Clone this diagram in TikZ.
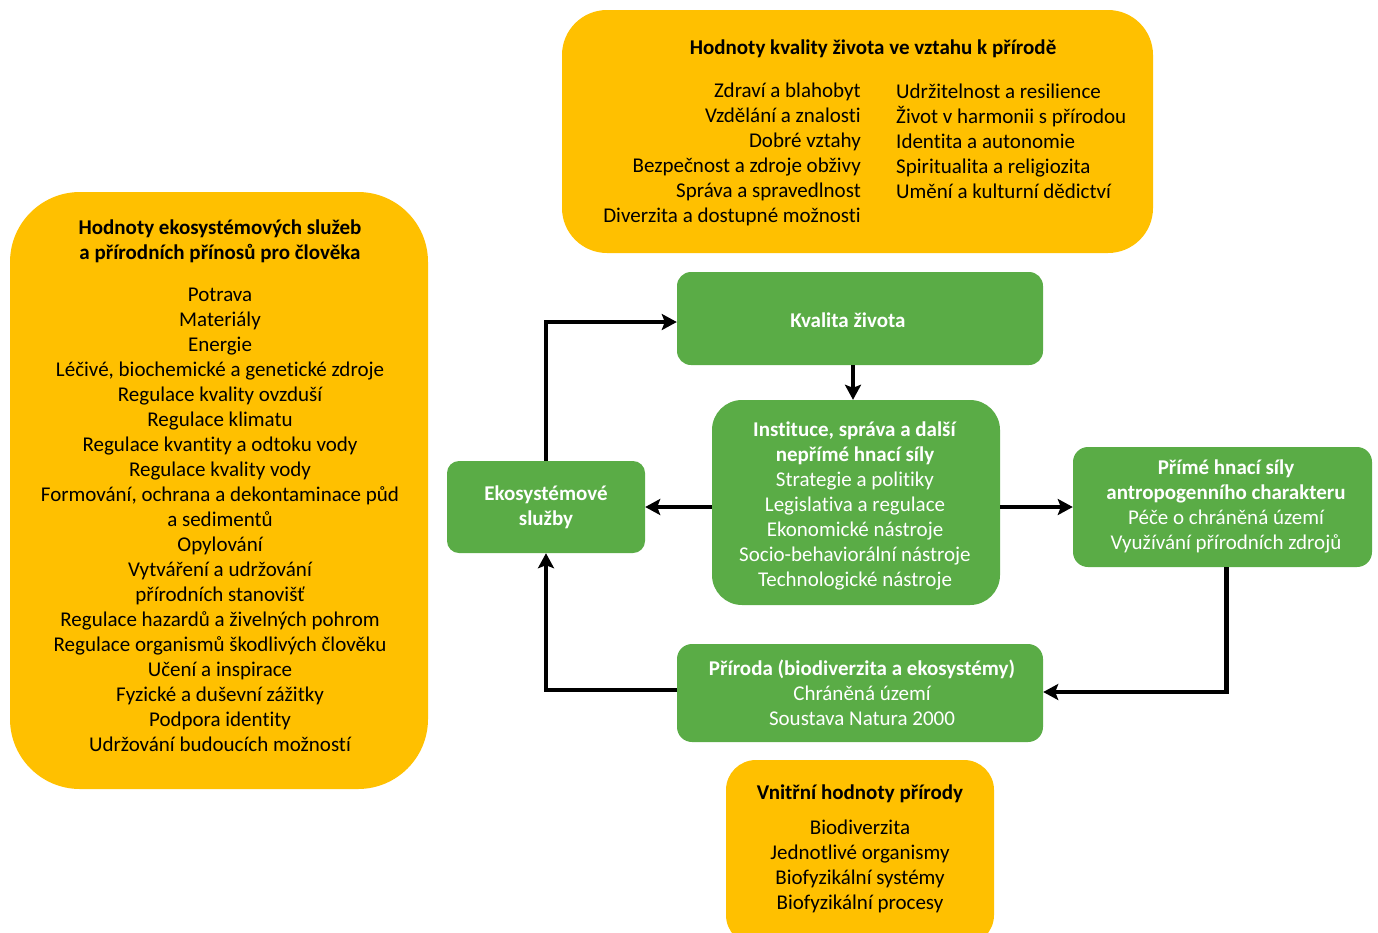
\documentclass[tikz,border=0pt]{standalone}
\usepackage{fontspec}
\setmainfont[Ligatures=NoCommon]{Carlito}
\usetikzlibrary{arrows.meta}
\definecolor{orng}{HTML}{FFC000}
\definecolor{grn}{HTML}{5AAC46}
\tikzset{
  obox/.style={fill=orng, draw=none, rectangle},
  gbox/.style={fill=grn, draw=none, rectangle},
  txt/.style={inner sep=0pt, font=\fontsize{21}{25}\selectfont},
  btxt/.style={txt, font=\fontsize{21}{25}\selectfont\bfseries},
  wtxt/.style={txt, text=white},
  arr/.style={line width=4.5pt, -{Stealth[length=15pt,width=16pt,inset=3pt]}}
}
\begin{document}
\begin{tikzpicture}[x=1pt,y=-1pt]
\useasboundingbox (0,0) rectangle (1378,932);
% boxes
\node[obox, rounded corners=45, minimum width=591, minimum height=243] (top) at (857.5,131.5) {};
\node[obox, rounded corners=70, minimum width=418, minimum height=597] (left) at (219,490.5) {};
\node[gbox, rounded corners=14, minimum width=366, minimum height=93] (kval) at (860,318.5) {};
\node[gbox, rounded corners=30, minimum width=288, minimum height=205] (inst) at (856,502.5) {};
\node[gbox, rounded corners=12, minimum width=198, minimum height=92] (eko) at (546,507) {};
\node[gbox, rounded corners=15, minimum width=299, minimum height=120] (prime) at (1222.5,507) {};
\node[gbox, rounded corners=15, minimum width=366, minimum height=98] (priroda) at (860,693) {};
\node[obox, rounded corners=30, minimum width=268, minimum height=185] (vnitr) at (860,852.5) {};
% texts: top box
\node[btxt] (topT) at (873,48.5) {Hodnoty kvality života ve vztahu k přírodě};
\node[txt, align=right, anchor=east] (topL) at (861,154) {Zdraví a blahobyt\\Vzdělání a znalosti\\Dobré vztahy\\Bezpečnost a zdroje obživy\\Správa a spravedlnost\\Diverzita a dostupné možnosti};
\node[txt, align=left, anchor=west] (topR) at (896,141.5) {Udržitelnost a resilience\\Život v harmonii s přírodou\\Identita a autonomie\\Spiritualita a religiozita\\Umění a kulturní dědictví};
% left box
\node[btxt, align=center] (leftT) at (220,241.5) {Hodnoty ekosystémových služeb\\a přírodních přínosů pro člověka};
\node[txt, align=center] (leftL) at (220,520) {Potrava\\Materiály\\Energie\\Léčivé, biochemické a genetické zdroje\\Regulace kvality ovzduší\\Regulace klimatu\\Regulace kvantity a odtoku vody\\Regulace kvality vody\\Formování, ochrana a dekontaminace půd\\a sedimentů\\Opylování\\Vytváření a udržování\\přírodních stanovišť\\Regulace hazardů a živelných pohrom\\Regulace organismů škodlivých člověku\\Učení a inspirace\\Fyzické a duševní zážitky\\Podpora identity\\Udržování budoucích možností};
% green boxes
\node[btxt, text=white] (kvalT) at (848,320) {Kvalita života};
\node[wtxt, align=center] (instT) at (855,505.5) {\textbf{Instituce, správa a další}\\\textbf{nepřímé hnací síly}\\Strategie a politiky\\Legislativa a regulace\\Ekonomické nástroje\\Socio-behaviorální nástroje\\Technologické nástroje};
\node[btxt, text=white, align=center] (ekoT) at (546,507) {Ekosystémové\\služby};
\node[wtxt, align=center] (primeT) at (1226,506) {\textbf{Přímé hnací síly}\\\textbf{antropogenního charakteru}\\Péče o chráněná území\\Využívání přírodních zdrojů};
\node[wtxt, align=center] (prirodaT) at (862,692.5) {\textbf{Příroda (biodiverzita a ekosystémy)}\\Chráněná území\\Soustava Natura 2000};
% bottom orange
\node[btxt] (vnitrT) at (860,794) {Vnitřní hodnoty přírody};
\node[txt, align=center] (vnitrL) at (860,866) {Biodiverzita\\Jednotlivé organismy\\Biofyzikální systémy\\Biofyzikální procesy};
% connectors
\draw[arr] (eko.north) |- ([yshift=-3.5pt]kval.west);
\draw[arr] ([xshift=-3pt]inst.north |- kval.south) -- ([xshift=-3pt]inst.north);
\draw[arr] (inst.west |- eko.east) -- (eko.east);
\draw[arr] (inst.east |- prime.west) -- (prime.west);
\draw[arr] ([xshift=4pt]prime.south) |- ([yshift=1pt]priroda.east);
\draw[arr] ([yshift=3pt]priroda.west) -| (eko.south);
\end{tikzpicture}
\end{document}
